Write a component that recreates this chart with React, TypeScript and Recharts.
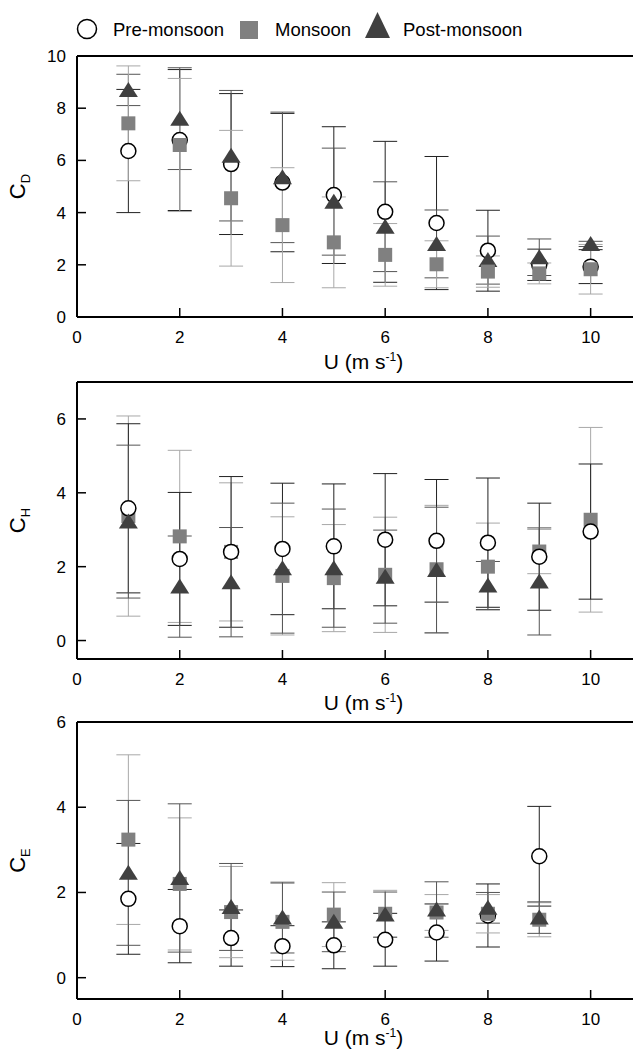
import React from 'react';
import { ScatterChart, Scatter, XAxis, YAxis, ErrorBar, ReferenceLine, Label } from 'recharts';

const windSpeed = [1, 2, 3, 4, 5, 6, 7, 8, 9, 10];
const xTicks = [0, 2, 4, 6, 8, 10];
const seriesNames = ['Pre-monsoon', 'Monsoon', 'Post-monsoon'];

// Panel C_D
const cdPre = [6.36, 6.78, 5.86, 5.15, 4.67, 4.03, 3.6, 2.54, 2.0, 1.93];
const cdPreErr = [2.36, 2.7, 2.7, 2.65, 2.62, 2.7, 2.55, 1.55, 0.6, 0.65];
const cdMon = [7.42, 6.59, 4.55, 3.52, 2.86, 2.38, 2.02, 1.74, 1.67, 1.83];
const cdMonErr = [2.2, 2.55, 2.6, 2.2, 1.74, 1.2, 0.9, 0.6, 0.4, 0.95];
const cdPost = [8.7, 7.6, 6.18, 5.35, 4.42, 3.46, 2.8, 2.18, 2.29, 2.8];
const cdPostErr = [0.6, 1.95, 2.5, 2.5, 2.05, 1.72, 1.3, 0.92, 0.7, 0.1];

// Panel C_H
const chPre = [3.58, 2.21, 2.4, 2.48, 2.55, 2.73, 2.7, 2.65, 2.27, 2.95];
const chPreErr = [2.29, 1.8, 2.04, 1.78, 1.69, 1.79, 1.66, 1.75, 1.45, 1.83];
const chMon = [3.37, 2.82, 2.4, 1.75, 1.69, 1.78, 1.93, 2.0, 2.41, 3.27];
const chMonErr = [2.71, 2.33, 1.87, 1.6, 1.45, 1.56, 1.73, 1.18, 0.6, 2.5];
const chPost = [3.22, 1.46, 1.58, 1.96, 1.96, 1.73, 1.91, 1.49, 1.6, null];
const chPostErr = [2.07, 1.37, 1.48, 1.76, 1.6, 1.26, 1.7, 0.65, 1.45, null];

// Panel C_E
const cePre = [1.85, 1.21, 0.93, 0.74, 0.76, 0.89, 1.06, 1.46, 2.85];
const cePreErr = [1.3, 0.86, 0.66, 0.48, 0.55, 0.62, 0.67, 0.74, 1.17];
const ceMon = [3.24, 2.2, 1.54, 1.31, 1.48, 1.5, 1.53, 1.5, 1.36];
const ceMonErr = [1.99, 1.55, 1.07, 0.9, 0.75, 0.55, 0.42, 0.45, 0.4];
const cePost = [2.46, 2.34, 1.66, 1.41, 1.31, 1.48, 1.6, 1.64, 1.41];
const cePostErr = [1.7, 1.74, 1.02, 0.83, 0.7, 0.53, 0.65, 0.36, 0.37];

const FONT = '"Liberation Sans", Arial, Helvetica, sans-serif';

type Pt = { x: number; y: number; err: number };
const build = (vals: (number | null)[], errs: (number | null)[]): Pt[] =>
  windSpeed
    .map((x, i) => ({ x, y: vals[i] as number, err: errs[i] as number }))
    .filter((p) => p.y !== null && p.y !== undefined);

const CircleShape = (p: any) => (
  <circle cx={p.cx} cy={p.cy} r={7.5} fill="#fff" stroke="#000" strokeWidth={1.5} />
);
const SquareShape = (p: any) => (
  <rect x={p.cx - 7} y={p.cy - 7} width={14} height={14} fill="#808080" />
);
const TriShape = (p: any) => (
  <polygon
    points={`${p.cx},${p.cy - 8} ${p.cx - 9.5},${p.cy + 7} ${p.cx + 9.5},${p.cy + 7}`}
    fill="#404040"
  />
);

const Y_MARGIN = 11;
const X_MARGIN = 14;

const YTick = (props: any) => {
  const { x, y, payload } = props;
  const ax = x + Y_MARGIN;
  return (
    <g>
      <line x1={ax} x2={ax + 9} y1={y} y2={y} stroke="#000" strokeWidth={1.5} />
      <text x={x} y={y} dy="0.355em" textAnchor="end" fontSize={17} fontFamily={FONT} fill="#000">
        {payload.value}
      </text>
    </g>
  );
};

const XTick = (props: any) => {
  const { x, y, payload } = props;
  const ay = y - X_MARGIN;
  return (
    <g>
      {payload.value !== 0 && (
        <line x1={x} x2={x} y1={ay} y2={ay - 9} stroke="#000" strokeWidth={1.5} />
      )}
      <text x={x} y={y} dy="0.71em" textAnchor="middle" fontSize={17} fontFamily={FONT} fill="#000">
        {payload.value}
      </text>
    </g>
  );
};

const makeXTitle = (offset: number) => (props: any) => {
  const vb = props.viewBox || {};
  const cx = vb.x + vb.width / 2 + 4;
  const y = vb.y + offset;
  return (
    <text x={cx} y={y} textAnchor="middle" fontSize={21} fontFamily={FONT} fill="#000">
      U (m s
      <tspan dy={-8} fontSize={12}>-1</tspan>
      <tspan dy={8}>)</tspan>
    </text>
  );
};

const makeYTitle = (sub: string) => (props: any) => {
  const vb = props.viewBox || {};
  const cy = vb.y + vb.height / 2;
  const cx = 25;
  return (
    <text
      x={cx}
      y={cy}
      transform={`rotate(-90, ${cx}, ${cy})`}
      textAnchor="middle"
      fontSize={22}
      fontFamily={FONT}
      fill="#000"
    >
      C<tspan dy={5} fontSize={13}>{sub}</tspan>
    </text>
  );
};

type SeriesKey = 'pre' | 'mon' | 'post';
const errColors: Record<SeriesKey, string> = { pre: '#222', mon: '#a8a8a8', post: '#555' };
const shapes: Record<SeriesKey, any> = { pre: CircleShape, mon: SquareShape, post: TriShape };
const names: Record<SeriesKey, string> = { pre: seriesNames[0], mon: seriesNames[1], post: seriesNames[2] };

function Panel(props: {
  top: number;
  height: number;
  xAxisHeight: number;
  marginTop: number;
  yDomain: [number, number];
  yTicks: number[];
  sub: string;
  titleOffset: number;
  data: Record<SeriesKey, Pt[]>;
  order: SeriesKey[];
}) {
  const { top, height, xAxisHeight, marginTop, yDomain, yTicks, sub, titleOffset, data, order } = props;
  return (
    <div style={{ position: 'absolute', left: 0, top }}>
      <ScatterChart
        width={645}
        height={height}
        margin={{ top: marginTop, right: 3, bottom: 0, left: 0 }}
      >
        <XAxis
          type="number"
          dataKey="x"
          domain={[0, 11]}
          ticks={xTicks}
          allowDataOverflow
          height={xAxisHeight}
          tickSize={0}
          tickMargin={X_MARGIN}
          tickLine={false}
          axisLine={{ stroke: '#000', strokeWidth: 2 }}
          tick={<XTick />}
        >
          <Label content={makeXTitle(titleOffset)} />
        </XAxis>
        <YAxis
          type="number"
          dataKey="y"
          domain={yDomain}
          ticks={yTicks}
          allowDataOverflow
          width={77}
          tickSize={0}
          tickMargin={Y_MARGIN}
          tickLine={false}
          axisLine={{ stroke: '#000', strokeWidth: 2 }}
          tick={<YTick />}
        >
          <Label content={makeYTitle(sub)} />
        </YAxis>
        <ReferenceLine y={yDomain[1]} stroke="#000" strokeWidth={2} ifOverflow="extendDomain" />
        {order.map((k) => (
          <Scatter
            key={k}
            name={names[k]}
            data={data[k]}
            shape={shapes[k]}
            isAnimationActive={false}
          >
            <ErrorBar dataKey="err" direction="y" width={12} stroke={errColors[k]} strokeWidth={1} />
          </Scatter>
        ))}
      </ScatterChart>
    </div>
  );
}

function LegendBar() {
  return (
    <svg
      width={633}
      height={50}
      style={{ position: 'absolute', left: 0, top: 0 }}
      fontFamily={FONT}
    >
      <circle cx={87} cy={29} r={9.5} fill="#fff" stroke="#000" strokeWidth={1.5} />
      <text x={113} y={35.5} fontSize={18.5} fill="#000">{seriesNames[0]}</text>
      <rect x={240} y={21} width={18} height={18} fill="#808080" />
      <text x={275} y={35.5} fontSize={18.5} fill="#000">{seriesNames[1]}</text>
      <polygon points="377.5,12 365,38 390,38" fill="#404040" />
      <text x={403} y={35.5} fontSize={18.5} fill="#000">{seriesNames[2]}</text>
    </svg>
  );
}

export default function App() {
  return (
    <div
      style={{
        position: 'absolute',
        left: 0,
        top: 0,
        width: 633,
        height: 1052,
        overflow: 'hidden',
        background: '#fff',
      }}
    >
      <Panel
        top={0}
        height={377}
        xAxisHeight={60}
        marginTop={56}
        yDomain={[0, 10]}
        yTicks={[0, 2, 4, 6, 8, 10]}
        sub="D"
        titleOffset={52}
        data={{ pre: build(cdPre, cdPreErr), mon: build(cdMon, cdMonErr), post: build(cdPost, cdPostErr) }}
        order={['pre', 'post', 'mon']}
      />
      <Panel
        top={340}
        height={379}
        xAxisHeight={60}
        marginTop={42}
        yDomain={[-0.5, 7]}
        yTicks={[0, 2, 4, 6]}
        sub="H"
        titleOffset={51}
        data={{ pre: build(chPre, chPreErr), mon: build(chMon, chMonErr), post: build(chPost, chPostErr) }}
        order={['mon', 'pre', 'post']}
      />
      <Panel
        top={680}
        height={372}
        xAxisHeight={53}
        marginTop={42}
        yDomain={[-0.5, 6]}
        yTicks={[0, 2, 4, 6]}
        sub="E"
        titleOffset={46}
        data={{ pre: build(cePre, cePreErr), mon: build(ceMon, ceMonErr), post: build(cePost, cePostErr) }}
        order={['pre', 'mon', 'post']}
      />
      <LegendBar />
    </div>
  );
}
